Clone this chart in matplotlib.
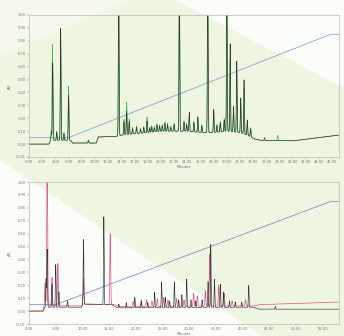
import numpy as np
import matplotlib
matplotlib.use("Agg")
import matplotlib.pyplot as plt
from matplotlib.patches import Polygon

# ---------------- data ----------------
# Top chromatogram
top_xticks = [0, 2, 4, 6, 8, 10, 12, 14, 16, 18, 20, 22, 24, 26, 28, 30, 32, 34, 36, 38, 40, 42, 44, 46]
top_grad_t = [0.0, 6.0, 45.7, 47.0]
top_grad_v = [0.05, 0.05, 0.85, 0.85]
top_base_t = [0.0, 3.0, 3.3, 6.3, 6.6, 10.2, 10.5, 13.3, 14.0, 16.0, 18.0, 20.0, 22.0, 24.0, 26.0, 28.0, 30.0, 32.0, 33.5, 34.2, 35.0, 40.0, 47.0]
top_base_v = [0.0, 0.0, 0.03, 0.03, 0.008, 0.008, 0.055, 0.06, 0.07, 0.08, 0.09, 0.10, 0.10, 0.10, 0.09, 0.09, 0.10, 0.09, 0.06, 0.04, 0.03, 0.025, 0.07]
top_blk_c = [3.4, 3.6, 4.2, 4.8, 5.3, 6.0, 9.0, 13.6, 14.4, 14.8, 15.2, 15.7, 16.3, 16.9, 17.4, 17.9, 18.3, 18.6, 19.0, 19.4, 19.8, 20.2, 20.6, 21.0, 21.5, 22.0, 22.8, 23.5, 23.9, 24.3, 25.0, 25.6, 26.2, 27.1, 28.0, 28.5, 29.0, 29.6, 30.0, 30.5, 31.0, 31.5, 32.1, 32.6, 33.1, 33.6, 35.7]
top_blk_h = [0.07, 0.60, 0.06, 0.87, 0.05, 0.35, 0.02, 1.20, 0.10, 0.18, 0.10, 0.04, 0.05, 0.03, 0.04, 0.09, 0.03, 0.04, 0.03, 0.05, 0.04, 0.04, 0.06, 0.05, 0.03, 0.05, 1.20, 0.07, 0.05, 0.15, 0.07, 0.12, 0.05, 1.20, 0.18, 0.05, 0.07, 0.09, 1.20, 0.68, 0.20, 0.55, 0.27, 0.42, 0.12, 0.06, 0.02]
top_grn_c = [3.4, 3.55, 4.2, 4.8, 5.3, 6.0, 9.0, 13.6, 14.4, 14.8, 15.2, 15.7, 16.3, 16.9, 17.4, 17.9, 18.3, 18.6, 19.0, 19.4, 19.8, 20.2, 20.6, 21.0, 21.5, 22.0, 22.8, 23.5, 23.9, 24.3, 25.0, 25.6, 26.2, 27.1, 28.0, 28.5, 29.0, 29.6, 30.0, 30.5, 31.0, 31.5, 32.1, 32.6, 33.1, 33.6, 37.7]
top_grn_h = [0.09, 0.74, 0.07, 0.80, 0.06, 0.42, 0.02, 1.20, 0.12, 0.25, 0.12, 0.05, 0.06, 0.04, 0.05, 0.12, 0.04, 0.05, 0.04, 0.06, 0.05, 0.05, 0.07, 0.06, 0.04, 0.06, 1.20, 0.08, 0.06, 0.13, 0.08, 0.10, 0.06, 1.20, 0.16, 0.06, 0.08, 0.10, 1.20, 0.55, 0.18, 0.45, 0.22, 0.36, 0.10, 0.07, 0.04]

# Bottom chromatogram
bot_xticks = [0, 5, 10, 15, 20, 25, 30, 35, 40, 45, 50, 55]
bot_grad_t = [0.0, 5.0, 56.5, 58.0]
bot_grad_v = [0.05, 0.05, 0.85, 0.85]
bot_blk_base_t = [0.0, 2.6, 3.0, 9.8, 10.2, 15.5, 16.5, 42.0, 43.0, 58.0]
bot_blk_base_v = [0.0, 0.0, 0.03, 0.03, 0.055, 0.05, 0.025, 0.03, 0.015, 0.015]
bot_pnk_base_t = [0.0, 2.6, 3.0, 9.8, 10.2, 16.0, 17.0, 42.0, 43.0, 58.0]
bot_pnk_base_v = [0.0, 0.0, 0.04, 0.04, 0.05, 0.05, 0.035, 0.04, 0.05, 0.07]
bot_blk_c = [3.2, 3.4, 4.3, 5.0, 5.6, 7.2, 10.2, 14.0, 16.8, 18.2, 19.8, 21.0, 22.2, 23.5, 24.8, 25.5, 26.3, 27.2, 28.0, 28.6, 29.5, 30.3, 31.2, 32.4, 33.5, 34.0, 34.7, 35.8, 36.4, 37.5, 38.6, 39.8, 41.1, 46.1]
bot_blk_h = [0.22, 0.45, 0.18, 0.33, 0.12, 0.05, 0.50, 0.68, 0.03, 0.04, 0.08, 0.05, 0.04, 0.12, 0.20, 0.08, 0.05, 0.20, 0.06, 0.10, 0.22, 0.06, 0.05, 0.06, 0.20, 0.49, 0.22, 0.18, 0.12, 0.05, 0.04, 0.04, 0.17, 0.02]
bot_pnk_c = [3.0, 3.4, 4.3, 5.4, 10.2, 15.2, 19.5, 21.0, 22.0, 23.0, 24.0, 25.2, 26.0, 27.6, 29.0, 30.8, 31.5, 33.0, 33.8, 35.5, 36.5, 38.0, 40.5]
bot_pnk_h = [0.18, 1.25, 0.22, 0.33, 0.20, 0.55, 0.04, 0.05, 0.05, 0.04, 0.06, 0.07, 0.05, 0.06, 0.05, 0.10, 0.08, 0.12, 0.40, 0.16, 0.10, 0.04, 0.05]

# ---------------- drawing ----------------
W, H = 344, 336
fig = plt.figure(figsize=(W / 100, H / 100), dpi=100)
fig.patch.set_facecolor("#eef6e2")

def fpoly(pts, color, alpha=1.0):
    p = Polygon([(x / W, 1 - y / H) for x, y in pts], closed=True,
                transform=fig.transFigure, facecolor=color, edgecolor="none",
                alpha=alpha, zorder=-10)
    fig.patches.append(p)

fpoly([(175, 0), (344, 0), (344, 88)], "#fbfdf8")
fpoly([(0, 0), (130, 0), (0, 55)], "#f7fbf2", 0.8)
fpoly([(0, 160), (0, 336), (262, 336)], "#fbfdf8")

def trace(tt, base_t, base_v, cs, hs, width):
    y = np.interp(tt, base_t, base_v)
    for c, h in zip(cs, hs):
        y = y + h * np.exp(-0.5 * ((tt - c) / width) ** 2)
    return y

def style(ax, xmax, xticks, minor_step):
    ax.set_facecolor("none")
    ax.set_xlim(0, xmax)
    ax.set_ylim(-0.10, 1.00)
    ax.set_xticks(xticks)
    ax.set_xticklabels([f"{v:.2f}" for v in xticks])
    ax.set_xticks(np.arange(0, xmax, minor_step), minor=True)
    yt = [-0.10, 0.0, 0.10, 0.20, 0.30, 0.40, 0.50, 0.60, 0.70, 0.80, 0.90, 1.00]
    ax.set_yticks(yt)
    ax.set_yticklabels([f"{v:.2f}" for v in yt])
    ax.tick_params(labelsize=2.6, colors="#777777", length=1.5, width=0.3, pad=1)
    ax.tick_params(which="minor", length=0.8, width=0.3, colors="#999999")
    for s in ax.spines.values():
        s.set_color("#bbbbbb")
        s.set_linewidth(0.5)
    ax.set_ylabel("AU", fontsize=2.8, color="#666666", labelpad=3)
    ax.set_xlabel("Minutes", fontsize=2.6, color="#666666", labelpad=0.5)

# top panel
ax1 = fig.add_axes([29 / W, 1 - 157 / H, 310 / W, 142 / H])
t1 = np.linspace(0, 47, 4000)
ax1.plot(top_grad_t, top_grad_v, color="#8aa2d0", lw=0.6)
ax1.plot(t1, trace(t1, top_base_t, top_base_v, top_grn_c, top_grn_h, 0.06), color="#45b845", lw=0.5)
ax1.plot(t1, trace(t1, top_base_t, top_base_v, top_blk_c, top_blk_h, 0.05), color="#333333", lw=0.45)
style(ax1, 47, top_xticks, 0.5)

# bottom panel
ax2 = fig.add_axes([29 / W, 1 - 324 / H, 310 / W, 142 / H])
t2 = np.linspace(0, 58, 5000)
ax2.plot(bot_grad_t, bot_grad_v, color="#8090c8", lw=0.6)
ax2.plot(t2, trace(t2, bot_pnk_base_t, bot_pnk_base_v, bot_pnk_c, bot_pnk_h, 0.08), color="#e0508c", lw=0.5)
ax2.plot(t2, trace(t2, bot_blk_base_t, bot_blk_base_v, bot_blk_c, bot_blk_h, 0.06), color="#333333", lw=0.45)
style(ax2, 58, bot_xticks, 1.0)

fig.savefig("out.png", dpi=100, facecolor=fig.get_facecolor())
